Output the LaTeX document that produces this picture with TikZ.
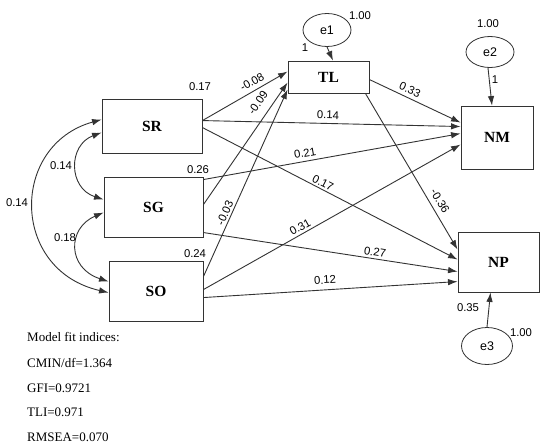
\documentclass[tikz,border=0pt]{standalone}
\usepackage{fontspec}
\setmainfont{Liberation Serif}
\newfontfamily\labfont{Liberation Sans}
\usetikzlibrary{arrows.meta,calc,shapes.geometric}
\definecolor{ln}{HTML}{333333}
\tikzset{
  var/.style={draw=ln,line width=0.9pt,rectangle,inner sep=0pt,font=\fontsize{15.5}{16}\selectfont\bfseries},
  err/.style={draw=ln,line width=0.8pt,ellipse,inner sep=0pt,font=\labfont\fontsize{12.5}{13}\selectfont},
  path/.style={draw=ln,line width=0.9pt,-{Latex[length=9.5pt,width=6.5pt]}},
  cov/.style={draw=ln,line width=0.9pt,{Latex[length=9.5pt,width=6.5pt]}-{Latex[length=9.5pt,width=6.5pt]}},
  lab/.style={font=\labfont\fontsize{11.3}{12}\selectfont,inner sep=0pt},
  fit/.style={font=\fontsize{13}{14}\selectfont,anchor=west,inner sep=0pt}
}
\begin{document}
\begin{tikzpicture}[x=1pt,y=-1pt]
\useasboundingbox (0,0) rectangle (550,448);
\fill[white] (0,0) rectangle (550,448);
% nodes
\node[var,minimum width=100pt,minimum height=54pt] (SR) at (152,126) {SR};
\node[var,minimum width=99pt,minimum height=60pt] (SG) at (153.5,207) {SG};
\node[var,minimum width=94pt,minimum height=60pt] (SO) at (156,291) {SO};
\node[var,minimum width=81pt,minimum height=32pt] (TL) at (328.5,77) {TL};
\node[var,minimum width=72pt,minimum height=63pt] (NM) at (497,137.5) {NM};
\node[var,minimum width=81pt,minimum height=60pt] (NP) at (498.5,262) {NP};
\node[err,minimum width=48pt,minimum height=33pt] (e1) at (327,30) {e1};
\node[err,minimum width=48pt,minimum height=31pt] (e2) at (490,52) {e2};
\node[err,minimum width=51pt,minimum height=37pt] (e3) at (487,346) {e3};
% structural paths
\draw[path] ($(SR.north east)+(0,22)$) -- ($(TL.north west)+(0,11)$);
\draw[path] ($(SG.north east)+(0,28)$) -- ($(TL.north west)+(0,22)$);
\draw[path] ($(SO.north east)+(0,16)$) -- ($(TL.north west)+(0,29)$);
\draw[path] ($(TL.north east)+(0,19)$) -- ($(NM.north west)+(0,17)$);
\draw[path] ($(SR.north east)+(0,22)$) -- ($(NM.north west)+(0,21)$);
\draw[path] ($(SG.north east)+(0,3)$) -- ($(NM.north west)+(0,28)$);
\draw[path] ($(SO.north east)+(0,29)$) -- ($(NM.north west)+(0,39)$);
\draw[path] ($(TL.south east)+(-4,0)$) -- ($(NP.north west)+(0,18)$);
\draw[path] ($(SR.north east)+(0,29)$) -- ($(NP.north west)+(0,28)$);
\draw[path] ($(SG.north east)+(0,56)$) -- ($(NP.north west)+(0,40)$);
\draw[path] ($(SO.north east)+(0,37)$) -- ($(NP.north west)+(0,50)$);
% error paths
\draw[path] (e1.south) -- ($(TL.north)+(4.5,0)$);
\draw[path] ($(e2.south)+(-2,0)$) -- ($(NM.north)+(-5,0)$);
\draw[path] (e3.north) -- ($(NP.south)+(-8,0)$);
% covariances
\draw[cov] ($(SR.north west)+(0,34)$) .. controls (68,145) and (68,188) .. ($(SG.north west)+(0,23)$);
\draw[cov] ($(SG.north west)+(0,36)$) .. controls (67,228) and (67,268) .. ($(SO.north west)+(0,21)$);
\draw[cov] ($(SR.north west)+(0,21)$) .. controls (10,145) and (10,270) .. ($(SO.north west)+(0,32)$);
% labels
\node[lab] (l1) at (17,203) {0.14};
\node[lab] (l2) at (61,166) {0.14};
\node[lab] (l3) at (65,238) {0.18};
\node[lab] (l4) at (200,87) {0.17};
\node[lab] (l5) at (198,170) {0.26};
\node[lab] (l6) at (195,254) {0.24};
\node[lab,rotate=30] (l7) at (252,82) {-0.08};
\node[lab,rotate=55] (l8) at (258,103) {-0.09};
\node[lab,rotate=66] (l9) at (225,213) {-0.03};
\node[lab,rotate=29] (l10) at (300,227) {0.31};
\node[lab,rotate=-25] (l11) at (410,90) {0.33};
\node[lab,rotate=-1.5] (l12) at (328,115) {0.14};
\node[lab,rotate=10] (l13) at (305,153) {0.21};
\node[lab,rotate=-27] (l14) at (323,183) {0.17};
\node[lab,rotate=-59] (l15) at (440,201) {-0.36};
\node[lab,rotate=-9] (l16) at (375,252) {0.27};
\node[lab,rotate=3.5] (l17) at (325,280) {0.12};
\node[lab] (l18) at (360,16) {1.00};
\node[lab] (l19) at (305,48) {1};
\node[lab] (l20) at (488,24) {1.00};
\node[lab] (l21) at (495,80) {1};
\node[lab] (l22) at (468,308) {0.35};
\node[lab] (l23) at (521,333) {1.00};
% fit indices
\node[fit] (f1) at (27,337) {Model fit indices:};
\node[fit] (f2) at (27,363) {CMIN/df=1.364};
\node[fit] (f3) at (27,388) {GFI=0.9721};
\node[fit] (f4) at (27,412) {TLI=0.971};
\node[fit] (f5) at (27,437) {RMSEA=0.070};
\end{tikzpicture}
\end{document}
